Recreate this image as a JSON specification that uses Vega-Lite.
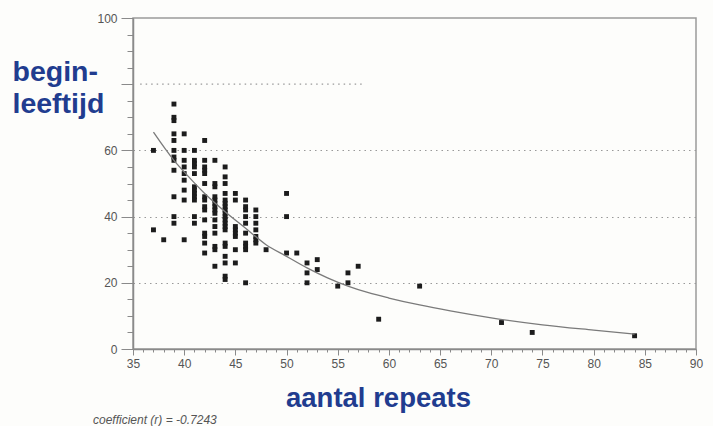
{
  "$schema": "https://vega.github.io/schema/vega-lite/v6.json",
  "width": 563,
  "height": 331,
  "autosize": {"type": "none"},
  "padding": {"left": 133, "top": 18, "right": 17, "bottom": 77},
  "background": "#fdfdfb",
  "config": {
    "view": {"stroke": "#9a9a9a", "strokeWidth": 1.5},
    "font": "Liberation Sans",
    "axis": {"labelOverlap": false, "labelSeparation": 0}
  },
  "title": {
    "text": "coefficient (r) = -0.7243",
    "orient": "bottom",
    "anchor": "start",
    "frame": "group",
    "dx": -40,
    "offset": 3,
    "fontSize": 12,
    "fontStyle": "italic",
    "fontWeight": "normal",
    "color": "#555555",
    "font": "Liberation Sans"
  },
  "datasets": {
    "points": [
      {"x": 37, "y": 60}, {"x": 37, "y": 36},
      {"x": 38, "y": 33},
      {"x": 39, "y": 74}, {"x": 39, "y": 70}, {"x": 39, "y": 69}, {"x": 39, "y": 65}, {"x": 39, "y": 63}, {"x": 39, "y": 60}, {"x": 39, "y": 58}, {"x": 39, "y": 57}, {"x": 39, "y": 54}, {"x": 39, "y": 46}, {"x": 39, "y": 40}, {"x": 39, "y": 38},
      {"x": 40, "y": 65}, {"x": 40, "y": 60}, {"x": 40, "y": 57}, {"x": 40, "y": 55}, {"x": 40, "y": 53}, {"x": 40, "y": 51}, {"x": 40, "y": 48}, {"x": 40, "y": 45}, {"x": 40, "y": 33},
      {"x": 41, "y": 60}, {"x": 41, "y": 57}, {"x": 41, "y": 56}, {"x": 41, "y": 55}, {"x": 41, "y": 53}, {"x": 41, "y": 49}, {"x": 41, "y": 48}, {"x": 41, "y": 47}, {"x": 41, "y": 46}, {"x": 41, "y": 45}, {"x": 41, "y": 40}, {"x": 41, "y": 38},
      {"x": 42, "y": 63}, {"x": 42, "y": 57}, {"x": 42, "y": 55}, {"x": 42, "y": 54}, {"x": 42, "y": 53}, {"x": 42, "y": 50}, {"x": 42, "y": 46}, {"x": 42, "y": 45}, {"x": 42, "y": 43}, {"x": 42, "y": 42}, {"x": 42, "y": 39}, {"x": 42, "y": 35}, {"x": 42, "y": 34}, {"x": 42, "y": 32}, {"x": 42, "y": 29},
      {"x": 43, "y": 57}, {"x": 43, "y": 50}, {"x": 43, "y": 49}, {"x": 43, "y": 46}, {"x": 43, "y": 45}, {"x": 43, "y": 44}, {"x": 43, "y": 43}, {"x": 43, "y": 42}, {"x": 43, "y": 41}, {"x": 43, "y": 39}, {"x": 43, "y": 37}, {"x": 43, "y": 35}, {"x": 43, "y": 31}, {"x": 43, "y": 30}, {"x": 43, "y": 25},
      {"x": 44, "y": 55}, {"x": 44, "y": 52}, {"x": 44, "y": 50}, {"x": 44, "y": 47}, {"x": 44, "y": 45}, {"x": 44, "y": 44}, {"x": 44, "y": 43}, {"x": 44, "y": 42}, {"x": 44, "y": 41}, {"x": 44, "y": 40}, {"x": 44, "y": 39}, {"x": 44, "y": 38}, {"x": 44, "y": 37}, {"x": 44, "y": 36}, {"x": 44, "y": 32}, {"x": 44, "y": 31}, {"x": 44, "y": 28}, {"x": 44, "y": 26}, {"x": 44, "y": 22}, {"x": 44, "y": 21},
      {"x": 45, "y": 47}, {"x": 45, "y": 45}, {"x": 45, "y": 37}, {"x": 45, "y": 36}, {"x": 45, "y": 35}, {"x": 45, "y": 34}, {"x": 45, "y": 30}, {"x": 45, "y": 26},
      {"x": 46, "y": 45}, {"x": 46, "y": 43}, {"x": 46, "y": 42}, {"x": 46, "y": 40}, {"x": 46, "y": 38}, {"x": 46, "y": 35}, {"x": 46, "y": 32}, {"x": 46, "y": 31}, {"x": 46, "y": 30}, {"x": 46, "y": 20},
      {"x": 47, "y": 42}, {"x": 47, "y": 40}, {"x": 47, "y": 38}, {"x": 47, "y": 36}, {"x": 47, "y": 34}, {"x": 47, "y": 33}, {"x": 47, "y": 32},
      {"x": 48, "y": 30},
      {"x": 50, "y": 47}, {"x": 50, "y": 40}, {"x": 50, "y": 29},
      {"x": 51, "y": 29},
      {"x": 52, "y": 26}, {"x": 52, "y": 23}, {"x": 52, "y": 20},
      {"x": 53, "y": 27}, {"x": 53, "y": 24},
      {"x": 55, "y": 19},
      {"x": 56, "y": 23}, {"x": 56, "y": 20},
      {"x": 57, "y": 25},
      {"x": 59, "y": 9},
      {"x": 63, "y": 19},
      {"x": 71, "y": 8},
      {"x": 74, "y": 5},
      {"x": 84, "y": 4}
    ],
    "curve": [
      {"x": 37, "y": 65.5}, {"x": 39, "y": 57}, {"x": 40, "y": 53.5}, {"x": 42, "y": 47}, {"x": 44, "y": 41.5}, {"x": 46, "y": 36.5}, {"x": 48, "y": 31.5}, {"x": 50, "y": 28}, {"x": 52, "y": 24.5}, {"x": 54, "y": 21.5}, {"x": 56, "y": 19}, {"x": 58, "y": 17}, {"x": 60, "y": 15.4}, {"x": 63, "y": 13.3}, {"x": 66, "y": 11.5}, {"x": 70, "y": 9.4}, {"x": 75, "y": 7.3}, {"x": 80, "y": 5.7}, {"x": 84, "y": 4.5}
    ],
    "partialGrid": [
      {"x": 35.7, "x2": 57.5, "y": 80}
    ]
  },
  "layer": [
    {
      "data": {"name": "points"},
      "mark": {"type": "square", "size": 24, "filled": true, "color": "#1c1c1c", "opacity": 1},
      "encoding": {
        "x": {
          "field": "x",
          "type": "quantitative",
          "scale": {"domain": [35, 90], "nice": false, "zero": false},
          "axis": {
            "title": "aantal repeats",
            "titleFont": "Liberation Sans",
            "titleFontSize": 27.5,
            "titleFontWeight": "bold",
            "titleColor": "#213c8f",
            "titleX": 245,
            "titleY": 57,
            "titleAlign": "center",
            "titleBaseline": "alphabetic",
            "tickCount": 200,
            "format": "d",
            "values": [35,36,37,38,39,40,41,42,43,44,45,46,47,48,49,50,51,52,53,54,55,56,57,58,59,60,61,62,63,64,65,66,67,68,69,70,71,72,73,74,75,76,77,78,79,80,81,82,83,84,85,86,87,88,89,90],
            "labelExpr": "datum.value % 5 === 0 ? datum.label : ''",
            "labelFontSize": 12,
            "labelColor": "#555555",
            "labelPadding": 3,
            "labelFlush": false,
            "labelOverlap": false,
            "domainColor": "#8a8a8a",
            "domainWidth": 1.5,
            "tickColor": "#8a8a8a",
            "tickWidth": 1,
            "tickSize": {"condition": {"test": "datum.value % 5 === 0", "value": 6}, "value": 3},
            "grid": false
          }
        },
        "y": {
          "field": "y",
          "type": "quantitative",
          "scale": {"domain": [0, 100], "nice": false, "zero": true},
          "axis": {
            "title": ["begin-", "leeftijd"],
            "titleFont": "Liberation Sans",
            "titleFontSize": 28.5,
            "titleFontWeight": "bold",
            "titleColor": "#213c8f",
            "titleAngle": 0,
            "titleAlign": "left",
            "titleBaseline": "top",
            "titleLineHeight": 32,
            "titleX": -121,
            "titleY": 39,
            "tickCount": 200,
            "format": "d",
            "values": [0,5,10,15,20,25,30,35,40,45,50,55,60,65,70,75,80,85,90,95,100],
            "labelExpr": "datum.value % 20 === 0 && datum.value !== 80 ? datum.label : ''",
            "labelFontSize": 12,
            "labelColor": "#555555",
            "labelPadding": 4,
            "labelFlush": false,
            "labelOverlap": false,
            "domainColor": "#8a8a8a",
            "domainWidth": 1.5,
            "tickColor": "#8a8a8a",
            "tickWidth": 1,
            "tickSize": {"condition": {"test": "datum.value % 20 === 0", "value": 12}, "value": 6},
            "grid": true,
            "gridColor": "#999999",
            "gridDash": [1.5, 4],
            "gridWidth": 1.2,
            "gridOpacity": {"condition": {"test": "datum.value === 20 || datum.value === 40 || datum.value === 60", "value": 1}, "value": 0}
          }
        }
      }
    },
    {
      "data": {"name": "partialGrid"},
      "mark": {"type": "rule", "stroke": "#999999", "strokeDash": [1.5, 4], "strokeWidth": 1.2},
      "encoding": {
        "x": {"field": "x", "type": "quantitative"},
        "x2": {"field": "x2"},
        "y": {"field": "y", "type": "quantitative"}
      }
    },
    {
      "data": {"name": "curve"},
      "mark": {"type": "line", "interpolate": "monotone", "stroke": "#7a7a7a", "strokeWidth": 1.3},
      "encoding": {
        "x": {"field": "x", "type": "quantitative"},
        "y": {"field": "y", "type": "quantitative"}
      }
    }
  ]
}
